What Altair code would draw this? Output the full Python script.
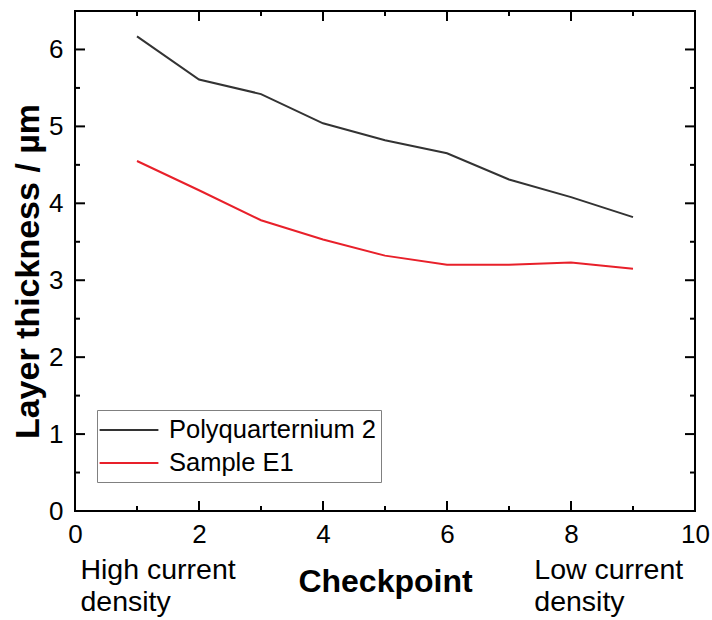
import altair as alt
import pandas as pd

checkpoints = [1, 2, 3, 4, 5, 6, 7, 8, 9]
poly_values = [6.17, 5.61, 5.42, 5.04, 4.82, 4.65, 4.31, 4.08, 3.82]
e1_values = [4.55, 4.17, 3.78, 3.53, 3.32, 3.20, 3.20, 3.23, 3.15]
series_names = ["Polyquarternium 2", "Sample E1"]
series_colors = ["#333333", "#e8202a"]

x_domain = [0, 10]
y_domain = [0, 6.5]
x_major = [0, 2, 4, 6, 8, 10]
x_minor = [1, 3, 5, 7, 9]
y_major = [0, 1, 2, 3, 4, 5, 6]
y_minor = [0.5, 1.5, 2.5, 3.5, 4.5, 5.5]

annot_x = [0.08, 7.4]
annot_left = ["High current", "density"]
annot_right = ["Low current", "density"]

W, H = 620, 500
FONT = "Liberation Sans, Arial, sans-serif"

rows = []
for c, v in zip(checkpoints, poly_values):
    rows.append({"checkpoint": c, "value": v, "series": series_names[0]})
for c, v in zip(checkpoints, e1_values):
    rows.append({"checkpoint": c, "value": v, "series": series_names[1]})
df = pd.DataFrame(rows)

xs = alt.Scale(domain=x_domain, nice=False, zero=False)
ys = alt.Scale(domain=y_domain, nice=False, zero=False)


def x_tick_layer(values, length):
    d = pd.DataFrame([{"pos": v, "edge": e} for v in values for e in y_domain])
    return alt.Chart(d).mark_tick(orient="vertical", size=length, thickness=2,
                                  color="black", clip=True, opacity=1).encode(
        x=alt.X("pos:Q", scale=xs, axis=None),
        y=alt.Y("edge:Q", scale=ys, axis=None),
    )


def y_tick_layer(values, length):
    d = pd.DataFrame([{"pos": v, "edge": e} for v in values for e in x_domain])
    return alt.Chart(d).mark_tick(orient="horizontal", size=length, thickness=2,
                                  color="black", clip=True, opacity=1).encode(
        x=alt.X("edge:Q", scale=xs, axis=None),
        y=alt.Y("pos:Q", scale=ys, axis=None),
    )


base = alt.Chart(df)

main = base.mark_line(strokeWidth=2).encode(
    x=alt.X("checkpoint:Q", scale=xs,
            axis=alt.Axis(orient="bottom", values=x_major, ticks=False, tickSize=0,
                          domain=False, grid=False, labelFontSize=26, labelPadding=10,
                          labelColor="black", labelFlush=False,
                          title="Checkpoint", titleFontSize=32, titleFontWeight="bold",
                          titleColor="black", titleX=W / 2, titleY=80,
                          titleBaseline="alphabetic", titleAlign="center")),
    y=alt.Y("value:Q", scale=ys,
            axis=alt.Axis(orient="left", values=y_major, ticks=False, tickSize=0,
                          domain=False, grid=False, labelFontSize=26, labelPadding=12,
                          labelColor="black", labelFlush=False,
                          title="Layer thickness / µm", titleFontSize=34,
                          titleFontWeight="bold", titleColor="black", titleAngle=270,
                          titleX=-37, titleY=260, titleBaseline="alphabetic",
                          titleAlign="center")),
    color=alt.Color("series:N",
                    scale=alt.Scale(domain=series_names, range=series_colors),
                    legend=alt.Legend(title=None, orient="none", legendX=22, legendY=399,
                                      symbolType="M-2.1,0H2.1", symbolSize=784,
                                      symbolStrokeWidth=2, symbolOffset=12,
                                      labelFontSize=25.5, labelOffset=25,
                                      labelColor="black",
                                      strokeColor="#808080", fillColor="white",
                                      padding=5, rowPadding=4, labelLimit=400)),
)

annot_expr = ("datum.value < 5 ? " + str(annot_left) + " : " + str(annot_right))

annot = base.mark_line(opacity=0).encode(
    x=alt.X("checkpoint:Q", scale=xs,
            axis=alt.Axis(orient="bottom", values=annot_x, ticks=False, tickSize=0,
                          domain=False, grid=False, labelExpr=annot_expr,
                          labelAlign="left", labelBaseline="top", labelFontSize=28.5,
                          labelLineHeight=32, labelPadding=44, labelColor="black",
                          labelFlush=False, labelOverlap=False, title=None)),
    y=alt.Y("value:Q", scale=ys, axis=None),
    detail="series:N",
)

layers = [
    x_tick_layer(x_major, 20),
    x_tick_layer(x_minor, 10),
    y_tick_layer(y_major, 20),
    y_tick_layer(y_minor, 10),
    annot,
    main,
]

chart = alt.layer(*layers).resolve_axis(x="independent", y="independent").properties(
    width=W, height=H,
    autosize=alt.AutoSizeParams(type="none"),
    padding={"left": 75, "top": 11, "right": 17, "bottom": 109},
    background="white",
).configure(font=FONT).configure_view(stroke="black", strokeWidth=2)

chart.save("out.html", embed_options={"renderer": "svg", "actions": False})
